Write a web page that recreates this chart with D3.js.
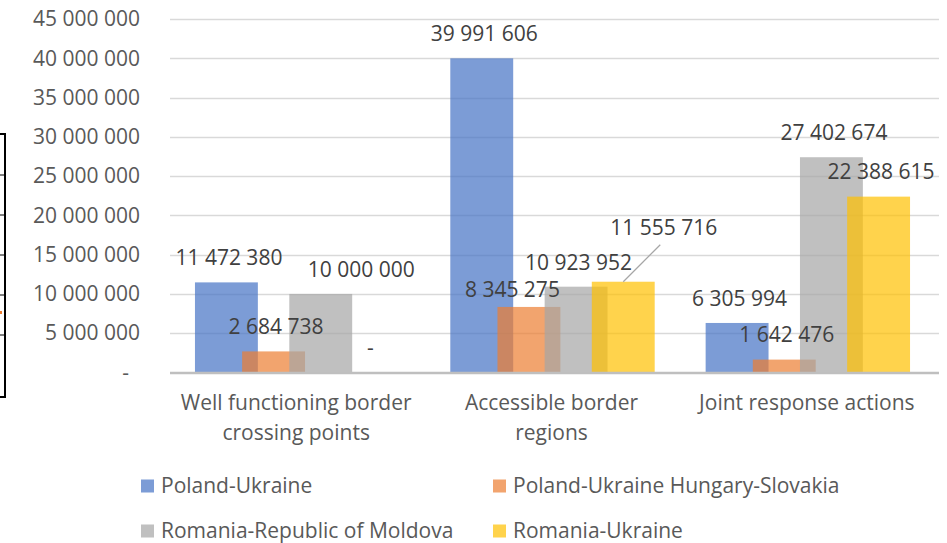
<!DOCTYPE html>
<html>
<head>
<meta charset="utf-8">
<script src="https://cdn.jsdelivr.net/npm/d3@7"></script>
<style>
  html, body { margin: 0; padding: 0; background: #fff; }
  svg { display: block; font-family: "Open Sans", sans-serif; }
</style>
</head>
<body>
<svg id="chart" width="947" height="543"></svg>
<script>
// ---- data ----
const categories = [
  ["Well functioning border", "crossing points"],
  ["Accessible border", "regions"],
  ["Joint response actions"]
];
const seriesNames = [
  "Poland-Ukraine",
  "Poland-Ukraine Hungary-Slovakia",
  "Romania-Republic of Moldova",
  "Romania-Ukraine"
];
const polandUkraine = [11472380, 39991606, 6305994];
const polandUkraineHungarySlovakia = [2684738, 8345275, 1642476];
const romaniaMoldova = [10000000, 10923952, 27402674];
const romaniaUkraine = [0, 11555716, 22388615];
const yTicks = [0, 5000000, 10000000, 15000000, 20000000, 25000000, 30000000, 35000000, 40000000, 45000000];

const seriesValues = [polandUkraine, polandUkraineHungarySlovakia, romaniaMoldova, romaniaUkraine];
const colors = ["#4472C4", "#ED7D31", "#A5A5A5", "#FFC000"];

// label nudges (layout only): [series][category] -> [dx, dy]
const labelNudge = [
  [[0, 0], [0, 0], [0, 0]],
  [[0, 0], [-19, 7], [0, 0]],
  [[38, 0], [0, 0], [0, 0]],
  [[0, 0], [38, -30], [0, 0]]
];

const fmt = v => v === 0 ? "-" : d3.format(",")(v).replace(/,/g, " ");

const svg = d3.select("#chart");
const plot = { left: 170, right: 939, top: 19, bottom: 372.5 };

const y = d3.scaleLinear().domain([0, 45000000]).range([plot.bottom, plot.top]);
const x = d3.scaleBand().domain(d3.range(categories.length)).range([169.5, 935.5]).paddingInner(0).paddingOuter(0);

const bw = x.bandwidth();
const overlap = 0.25;
const gapRatio = 0.81;
const barW = bw / (gapRatio + seriesValues.length - overlap * (seriesValues.length - 1));
const step = barW * (1 - overlap);
const groupOffset = (bw - (barW + step * (seriesValues.length - 1))) / 2;
const barX = (c, s) => x(c) + groupOffset + s * step;

// left frame artifact
const frame = svg.append("g").attr("stroke", "#000").attr("stroke-width", 2).attr("fill", "none");
frame.append("path").attr("d", "M0,134 H5 V397 H0");
[175, 215, 255, 295, 335].forEach(t => frame.append("line").attr("x1", 0).attr("x2", 5).attr("y1", t).attr("y2", t).attr("stroke-width", 1));
svg.append("rect").attr("x", 0).attr("y", 311).attr("width", 2).attr("height", 3).attr("fill", "#ED7D31");

// gridlines
svg.append("g").selectAll("line").data(yTicks.filter(t => t > 0)).join("line")
  .attr("x1", plot.left).attr("x2", plot.right)
  .attr("y1", d => Math.round(y(d)) + 0.5).attr("y2", d => Math.round(y(d)) + 0.5)
  .attr("stroke", "#D9D9D9").attr("stroke-width", 1.3);

// y axis labels
const yAxis = d3.axisLeft(y).tickValues(yTicks).tickSize(0).tickPadding(0).tickFormat(fmt);
const ya = svg.append("g").attr("transform", `translate(140,0)`).call(yAxis);
ya.select(".domain").remove();
ya.selectAll("text").attr("font-size", 21).attr("fill", "#595959").attr("font-family", "Open Sans")
  .attr("dx", d => d === 0 ? -11 : 0);

// bars
seriesValues.forEach((vals, s) => {
  svg.append("g").selectAll("rect").data(vals).join("rect")
    .attr("x", (d, c) => barX(c, s))
    .attr("y", d => y(d))
    .attr("width", barW)
    .attr("height", d => y(0) - y(d))
    .attr("fill", colors[s])
    .attr("fill-opacity", 0.7);
});

// baseline
svg.append("line").attr("x1", plot.left).attr("x2", plot.right)
  .attr("y1", plot.bottom + 0.5).attr("y2", plot.bottom + 0.5)
  .attr("stroke", "#BFBFBF").attr("stroke-width", 2.5);

// data labels
seriesValues.forEach((vals, s) => {
  vals.forEach((v, c) => {
    const cx = barX(c, s) + barW / 2 + 2.5 + labelNudge[s][c][0];
    const cy = y(v) - 24.5 + labelNudge[s][c][1];
    svg.append("text").attr("x", cx).attr("y", cy).attr("dy", "0.35em")
      .attr("text-anchor", "middle").attr("font-size", 21).attr("fill", "#404040")
      .text(fmt(v));
  });
});
// leader line for the shifted label
{
  const s = 3, c = 1;
  const bx = barX(c, s) + barW / 2;
  svg.append("line").attr("x1", bx).attr("y1", y(romaniaUkraine[c]))
    .attr("x2", bx + 37).attr("y2", y(romaniaUkraine[c]) - 37)
    .attr("stroke", "#A6A6A6").attr("stroke-width", 1.3);
}

// category labels
categories.forEach((lines, c) => {
  const t = svg.append("text").attr("text-anchor", "middle").attr("font-size", 21).attr("fill", "#595959");
  lines.forEach((ln, i) => {
    t.append("tspan").attr("x", x(c) + bw / 2 - 1).attr("y", 403 + i * 30).attr("dy", "0.35em").text(ln);
  });
});

// legend
const legendPos = [[141, 486], [493, 486], [141, 531], [493, 531]];
seriesNames.forEach((name, s) => {
  const [lx, ly] = legendPos[s];
  svg.append("rect").attr("x", lx).attr("y", ly - 6.5).attr("width", 13).attr("height", 13)
    .attr("fill", colors[s]).attr("fill-opacity", 0.7);
  svg.append("text").attr("x", lx + 20).attr("y", ly).attr("dy", "0.35em")
    .attr("font-size", 21).attr("fill", "#595959").text(name);
});
</script>
</body>
</html>
